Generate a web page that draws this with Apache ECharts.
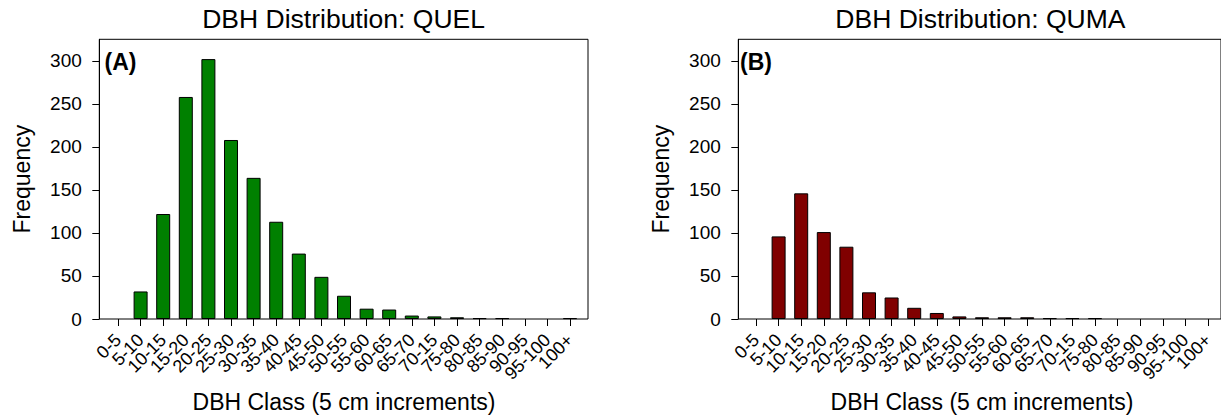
<!DOCTYPE html>
<html>
<head>
<meta charset="utf-8">
<script src="https://cdn.jsdelivr.net/npm/echarts@6/dist/echarts.min.js"></script>
<style>
html,body{margin:0;padding:0;background:#fff;}
#chart{width:1221px;height:419px;}
</style>
</head>
<body>
<div id="chart"></div>
<script>
// ---- data ----
const categories = ['0-5','5-10','10-15','15-20','20-25','25-30','30-35','35-40','40-45','45-50','50-55','55-60','60-65','65-70','70-15','75-80','80-85','85-90','90-95','95-100','100+'];
const quelCounts = [0,32,122,258,302,208,164,113,76,49,27,12,11,4,3,2,1,1,0,0,1];
const qumaCounts = [0,96,146,101,84,31,25,13,7,3,2,2,2,1,1,1,0,0,0,0,0];
const yTicks = [0,50,100,150,200,250,300];
const titles = ['DBH Distribution: QUEL','DBH Distribution: QUMA'];
const panelLabels = ['(A)','(B)'];
const yMax = 325;

const FONT = '"Liberation Sans", Arial, Helvetica, sans-serif';
const chart = echarts.init(document.getElementById('chart'), null, {renderer:'svg'});

const frames = [
  {left:99.3, top:39.3, width:488.7, height:279.7},
  {left:738.3, top:39.3, width:488.7, height:279.7}
];
const dataGrids = [
  {left:106.7, top:39.3, width:474.6, height:279.7},
  {left:744.7, top:39.3, width:474.6, height:279.7}
];
const colors = ['#008000','#800000'];
const seriesData = [quelCounts, qumaCounts];

const grid = [], xAxis = [], yAxis = [], series = [];
for (let p = 0; p < 2; p++) {
  const fg = grid.length;
  grid.push(Object.assign({show:true, borderColor:'#000', borderWidth:1, backgroundColor:'transparent'}, frames[p]));
  xAxis.push({gridIndex:fg, type:'value', min:0, max:1, show:false});
  yAxis.push({
    gridIndex:fg, type:'value', min:0, max:yMax,
    axisLine:{show:true, lineStyle:{color:'#000', width:1}},
    axisTick:{show:true, length:7, lineStyle:{color:'#000', width:1}, customValues:yTicks},
    axisLabel:{color:'#000', fontSize:19, fontFamily:FONT, margin:17.5, customValues:yTicks},
    splitLine:{show:false},
    name:'Frequency', nameLocation:'middle', nameGap:66,
    nameTextStyle:{color:'#000', fontSize:23, fontFamily:FONT}
  });
  const dg = grid.length;
  grid.push(Object.assign({show:false}, dataGrids[p]));
  xAxis.push({
    gridIndex:dg, type:'category', data:categories, boundaryGap:true,
    axisLine:{show:false},
    axisTick:{show:true, alignWithLabel:true, length:7, interval:0, lineStyle:{color:'#000', width:1}},
    axisLabel:{color:'#000', fontSize:18, fontFamily:FONT, rotate:45, interval:0, margin:18},
    splitLine:{show:false},
    name:'DBH Class (5 cm increments)', nameLocation:'middle', nameGap:71,
    nameTextStyle:{color:'#000', fontSize:23, fontFamily:FONT}
  });
  yAxis.push({gridIndex:dg, type:'value', min:0, max:yMax, show:false});
  series.push({
    type:'bar', xAxisIndex:xAxis.length-1, yAxisIndex:yAxis.length-1,
    // empty classes (count 0) draw no bar
    data:seriesData[p].map(v => v === 0 ? '-' : v), barWidth:14,
    itemStyle:{color:colors[p], borderColor:'#000', borderWidth:1},
    silent:true, animation:false
  });
}

const graphic = [
  {type:'text', x:343.6, y:18.5, style:{text:titles[0], fill:'#000', font:'26.5px '+FONT, textAlign:'center', textVerticalAlign:'middle'}},
  {type:'text', x:980.4, y:18.5, style:{text:titles[1], fill:'#000', font:'26.5px '+FONT, textAlign:'center', textVerticalAlign:'middle'}},
  {type:'text', x:104.5, y:62, style:{text:panelLabels[0], fill:'#000', font:'bold 23px '+FONT, textAlign:'left', textVerticalAlign:'middle'}},
  {type:'text', x:740, y:62, style:{text:panelLabels[1], fill:'#000', font:'bold 23px '+FONT, textAlign:'left', textVerticalAlign:'middle'}}
];

chart.setOption({animation:false, grid, xAxis, yAxis, series, graphic});
</script>
</body>
</html>
